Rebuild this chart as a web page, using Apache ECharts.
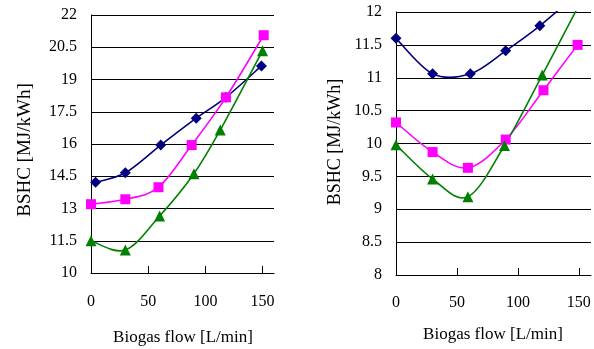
<!DOCTYPE html>
<html>
<head>
<meta charset="utf-8">
<script src="https://cdn.jsdelivr.net/npm/echarts@6/dist/echarts.min.js"></script>
<style>
html,body{margin:0;padding:0;background:#fff;}
#chart{width:594px;height:349px;}
</style>
</head>
<body>
<div id="chart"></div>
<script>
// ---- data ----
var xTickLabels = [0, 50, 100, 150];
var leftYTicks = [10, 11.5, 13, 14.5, 16, 17.5, 19, 20.5, 22];
var rightYTicks = [8, 8.5, 9, 9.5, 10, 10.5, 11, 11.5, 12];

var leftBlue  = [[4,14.22],[30,14.66],[61,15.95],[92,17.2],[118,18.17],[149,19.63]];
var leftPink  = [[0,13.2],[30,13.43],[59,13.99],[88,15.95],[118,18.17],[151,21.06]];
var leftGreen = [[0,11.5],[30,11.07],[60,12.65],[90,14.62],[113,16.65],[150,20.34]];

var rightBlue  = [[0,11.6],[30,11.06],[61,11.06],[90,11.41],[118,11.79],[150,12.3]];
var rightPink  = [[0,10.32],[30,9.87],[59,9.63],[90,10.06],[121,10.81],[149,11.5]];
var rightGreen = [[0,9.98],[30,9.46],[59,9.19],[89,9.97],[120,11.04],[150,12.1]];

var xTitle = 'Biogas flow [L/min]';
var yTitle = 'BSHC [MJ/kWh]';

// ---- chart ----
var FONT = '"Liberation Serif","Times New Roman",serif';
var BLUE = '#000080', PINK = '#FF00FF', GREEN = '#008000';

function xAxis(gridIndex, margin) {
  return {
    type: 'value', gridIndex: gridIndex, min: 0, max: 160, interval: 50,
    axisLine: {show: true, onZero: false, lineStyle: {color: '#000', width: 1}},
    axisTick: {show: true, inside: true, length: 7, customValues: xTickLabels, lineStyle: {color: '#000'}},
    axisLabel: {customValues: xTickLabels, margin: margin, color: '#000', fontFamily: FONT, fontSize: 16},
    splitLine: {show: false}
  };
}
function yAxis(gridIndex, min, max, interval, ticks) {
  return {
    type: 'value', gridIndex: gridIndex, min: min, max: max, interval: interval,
    axisLine: {show: true, lineStyle: {color: '#000', width: 1}},
    axisTick: {show: false},
    axisLabel: {customValues: ticks, margin: 14, color: '#000', fontFamily: FONT, fontSize: 16,
      formatter: function (v) { return String(+(+v).toFixed(1)); }},
    splitLine: {show: true, lineStyle: {color: '#000', width: 1}}
  };
}
// markers (line itself hidden; curve drawn by custom series below)
function markers(name, data, color, symbol, size, idx) {
  return {
    name: name, type: 'line', xAxisIndex: idx, yAxisIndex: idx,
    data: data, clip: true, showSymbol: true,
    symbol: symbol, symbolSize: size,
    lineStyle: {width: 0, opacity: 0},
    itemStyle: {color: color},
    z: 4
  };
}
// smooth curve through the data points (Catmull-Rom style, like spreadsheet smoothing)
function curve(data, color, idx) {
  return {
    type: 'custom', xAxisIndex: idx, yAxisIndex: idx,
    data: [[data[0][0], data[0][1]]],
    z: 3, silent: true,
    renderItem: function (params, api) {
      var pts = data.map(function (d) { return api.coord(d); });
      var n = pts.length;
      var d = 'M' + pts[0][0] + ' ' + pts[0][1];
      for (var i = 0; i < n - 1; i++) {
        var p0 = pts[Math.max(i - 1, 0)], p1 = pts[i], p2 = pts[i + 1], p3 = pts[Math.min(i + 2, n - 1)];
        var c1x = p1[0] + (p2[0] - p0[0]) / 6, c1y = p1[1] + (p2[1] - p0[1]) / 6;
        var c2x = p2[0] - (p3[0] - p1[0]) / 6, c2y = p2[1] - (p3[1] - p1[1]) / 6;
        d += ' C' + c1x + ' ' + c1y + ' ' + c2x + ' ' + c2y + ' ' + p2[0] + ' ' + p2[1];
      }
      var cs = params.coordSys;
      return {
        type: 'group',
        clipPath: {type: 'rect', shape: {x: cs.x, y: cs.y - 1, width: cs.width, height: cs.height + 2}},
        children: [{
          type: 'path',
          shape: {pathData: d},
          style: {stroke: color, fill: null, lineWidth: 1.6}
        }]
      };
    }
  };
}

var chart = echarts.init(document.getElementById('chart'), null, {renderer: 'canvas'});
chart.setOption({
  animation: false,
  backgroundColor: '#fff',
  grid: [
    {left: 91, top: 15, width: 183, height: 258, containLabel: false},
    {left: 396, top: 12, width: 195, height: 263, containLabel: false}
  ],
  xAxis: [xAxis(0, 21), xAxis(1, 20)],
  yAxis: [yAxis(0, 10, 22, 1.5, leftYTicks), yAxis(1, 8, 12, 0.5, rightYTicks)],
  series: [
    curve(leftBlue, BLUE, 0),
    curve(leftPink, PINK, 0),
    curve(leftGreen, GREEN, 0),
    curve(rightBlue, BLUE, 1),
    curve(rightPink, PINK, 1),
    curve(rightGreen, GREEN, 1),
    markers('L-blue', leftBlue, BLUE, 'diamond', 11, 0),
    markers('L-pink', leftPink, PINK, 'rect', 10, 0),
    markers('L-green', leftGreen, GREEN, 'triangle', 11, 0),
    markers('R-blue', rightBlue, BLUE, 'diamond', 11, 1),
    markers('R-pink', rightPink, PINK, 'rect', 10, 1),
    markers('R-green', rightGreen, GREEN, 'triangle', 11, 1)
  ],
  graphic: [
    {type: 'text', x: 25, y: 150, rotation: Math.PI / 2,
      style: {text: yTitle, fill: '#000', font: '19px ' + FONT, align: 'center', verticalAlign: 'middle'}},
    {type: 'text', x: 335, y: 142, rotation: Math.PI / 2,
      style: {text: yTitle, fill: '#000', font: '18px ' + FONT, align: 'center', verticalAlign: 'middle'}},
    {type: 'text', x: 183, y: 338,
      style: {text: xTitle, fill: '#000', font: '17px ' + FONT, align: 'center', verticalAlign: 'middle'}},
    {type: 'text', x: 493, y: 335,
      style: {text: xTitle, fill: '#000', font: '17px ' + FONT, align: 'center', verticalAlign: 'middle'}}
  ]
});
</script>
</body>
</html>
